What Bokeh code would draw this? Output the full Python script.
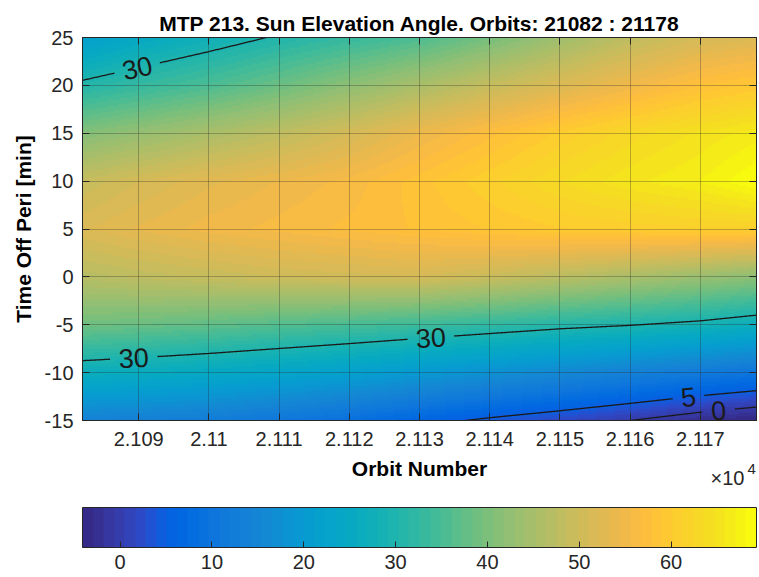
import numpy as np
import contourpy
from bokeh.plotting import figure
from bokeh.layouts import column
from bokeh.models import LinearColorMapper, ColorBar, FixedTicker, LinearAxis, Range1d
from bokeh.core.properties import value
from bokeh.embed import file_html
from bokeh.resources import INLINE

# ---------------- data ----------------
orbits = [21082, 21090, 21100, 21110, 21120, 21130, 21140, 21150, 21160, 21170, 21178]
time_off_peri = [-15, -10, -5, 0, 5, 10, 15, 20, 25]
elev_tm15 = [14, 13.5, 12.5, 11, 9, 6.5, 4.2, 2.2, 0, -2.5, -4.1]
elev_tm10 = [27, 26.2, 25, 23.6, 22, 20, 18, 16, 14, 12, 10.5]
elev_tm5 = [39, 38.4, 37.5, 36.3, 35.2, 34, 32.7, 31.3, 30.2, 28.8, 27]
elev_t0 = [47, 48, 49, 50, 50.5, 51, 49.5, 47.5, 45.5, 43.5, 42]
elev_t5 = [52, 53.5, 55, 56, 57, 58, 59, 60, 60.5, 61, 61]
elev_t10 = [49, 51, 53, 54.5, 56, 58.5, 61, 63.5, 65.5, 67, 69.3]
elev_t15 = [41, 43, 45.5, 48, 51, 54.5, 57.5, 60.5, 63, 65, 66.5]
elev_t20 = [31, 33, 35.5, 38.5, 42, 45.5, 49, 52, 55, 58, 59.5]
elev_t25 = [21.5, 24.9, 27.7, 30.5, 33, 35.5, 39.5, 44, 48, 51, 52]

contour_levels = [0, 5, 30]
x_ticks = [21090, 21100, 21110, 21120, 21130, 21140, 21150, 21160, 21170]
x_tick_labels = ["2.109", "2.11", "2.111", "2.112", "2.113", "2.114", "2.115", "2.116", "2.117"]
y_ticks = [-15, -10, -5, 0, 5, 10, 15, 20, 25]
y_tick_labels = ["-15", "-10", "-5", "0", "5", "10", "15", "20", "25"]
cb_ticks = [0, 10, 20, 30, 40, 50, 60]

# contour label placements (level, orbit, approximate time)
clabels = [(30, 21089.8, 21.6), (30, 21089.3, -8.9), (30, 21131.6, -6.6), (5, 21168.3, -12.6), (0, 21172.6, -14.2)]

parula = ["#352A87", "#363093", "#3637A0", "#353DAD", "#3243BA", "#2C4AC7", "#2053D4", "#0F5CDD",
          "#0363E1", "#0268E1", "#046DE0", "#0871DE", "#0D75DC", "#1079DA", "#127DD8", "#1481D6",
          "#1485D4", "#1389D3", "#108ED2", "#0C93D2", "#0998D1", "#079CCF", "#06A0CD", "#06A4CA",
          "#06A7C6", "#07A9C2", "#0AACBE", "#0FAEB9", "#15B1B4", "#1DB3AF", "#25B5A9", "#2EB7A4",
          "#38B99E", "#42BB98", "#4DBC92", "#59BD8C", "#65BE86", "#71BF80", "#7CBF7B", "#87BF77",
          "#92BF73", "#9CBF6F", "#A5BE6B", "#AEBE67", "#B7BD64", "#C0BC60", "#C8BC5D", "#D1BB59",
          "#D9BA56", "#E1B952", "#E9B94E", "#F1B94A", "#F8BB44", "#FDBE3D", "#FFC337", "#FEC832",
          "#FCCE2E", "#FAD32A", "#F7D826", "#F5DE21", "#F5E41D", "#F5EB18", "#F6F313", "#F9FB0E"]

FONT = "Liberation Sans"
INK = "#262626"
FW, FH = 674, 383
LEFT = 82
TOP = 37
P1_BOTTOM = 35          # below-frame strip of the main figure (tick labels)
STRIP_H = 52            # strip holding the x-axis title and the x10^4 multiplier

z = np.array([elev_tm15, elev_tm10, elev_tm5, elev_t0, elev_t5, elev_t10, elev_t15, elev_t20, elev_t25], dtype=float)
xo = np.array(orbits, dtype=float)
yt = np.array(time_off_peri, dtype=float)
x0, x1 = xo[0], xo[-1]
y0, y1 = yt[0], yt[-1]

mapper = LinearColorMapper(palette=parula, low=float(z.min()), high=float(z.max()))

p = figure(frame_width=FW, frame_height=FH, x_range=Range1d(x0, x1), y_range=Range1d(y0, y1),
           output_backend="svg", toolbar_location=None,
           min_border_left=LEFT, min_border_right=2, min_border_top=TOP, min_border_bottom=P1_BOTTOM,
           title="MTP 213. Sun Elevation Angle. Orbits: 21082 : 21178")
p.background_fill_color = "white"
p.border_fill_color = "white"
p.outline_line_color = INK
p.outline_line_width = 1

p.title.text_font = FONT
p.title.text_font_size = "21px"
p.title.text_font_style = "bold"
p.title.text_color = "#000000"
p.title.align = "center"
p.title.standoff = 5

# interpolated shading of the read grid (like MATLAB "shading interp"), display only
nx_disp, ny_disp = 338, 192
xs_disp = np.linspace(x0, x1, nx_disp)
ys_disp = np.linspace(y0, y1, ny_disp)
rows_x = np.array([np.interp(xs_disp, xo, row) for row in z])
shade = np.array([np.interp(ys_disp, yt, rows_x[:, j]) for j in range(nx_disp)]).T.astype(np.float32)
p.image(image=[shade], x=x0, y=y0, dw=x1 - x0, dh=y1 - y0, color_mapper=mapper, level="image")

# ---------------- contours with label gaps ----------------
gen = contourpy.contour_generator(xo, yt, z)

def to_px(pts):
    return np.column_stack(((pts[:, 0] - x0) / (x1 - x0) * FW, (pts[:, 1] - y0) / (y1 - y0) * FH))

def point_on_level(level, xq, yguess):
    best = None
    for seg in gen.lines(level):
        sx, sy = seg[:, 0], seg[:, 1]
        if sx.min() <= xq <= sx.max():
            o = np.argsort(sx)
            yq = float(np.interp(xq, sx[o], sy[o]))
            if best is None or abs(yq - yguess) < abs(best - yguess):
                best = yq
    return best

LFS = 27
lab_x, lab_y, lab_t, lab_a, lab_info = [], [], [], [], []
for lev, xq, yg in clabels:
    yq = point_on_level(lev, xq, yg)
    ya = point_on_level(lev, xq - 2, yg)
    yb = point_on_level(lev, xq + 2, yg)
    pa = to_px(np.array([[xq - 2, ya], [xq + 2, yb]]))
    ang = float(np.arctan2(pa[1, 1] - pa[0, 1], pa[1, 0] - pa[0, 0]))
    txt = str(lev)
    lab_x.append(xq); lab_y.append(yq); lab_t.append(txt); lab_a.append(ang)
    c = to_px(np.array([[xq, yq]]))[0]
    lab_info.append((lev, c, ang, 0.278 * LFS * len(txt) + 8))

line_xs, line_ys = [], []
for lev in contour_levels:
    for seg in gen.lines(lev):
        dense = [seg[0]]
        pxs = to_px(seg)
        for i in range(len(seg) - 1):
            n = max(1, int(np.ceil(np.hypot(*(pxs[i + 1] - pxs[i])))))
            for k in range(1, n + 1):
                dense.append(seg[i] + (seg[i + 1] - seg[i]) * k / n)
        dense = np.array(dense)
        dp = to_px(dense)
        keep = np.ones(len(dense), dtype=bool)
        for l2, c, ang, hw in lab_info:
            if l2 != lev:
                continue
            dx, dy = dp[:, 0] - c[0], dp[:, 1] - c[1]
            u = dx * np.cos(ang) + dy * np.sin(ang)
            v = -dx * np.sin(ang) + dy * np.cos(ang)
            keep &= ~((np.abs(u) < hw) & (np.abs(v) < 14))
        xs_ = dense[:, 0].copy(); ys_ = dense[:, 1].copy()
        xs_[~keep] = np.nan; ys_[~keep] = np.nan
        line_xs.append(xs_); line_ys.append(ys_)

p.multi_line(xs=line_xs, ys=line_ys, line_color="#1a1a1a", line_width=1.3)
p.text(x=lab_x, y=lab_y, text=lab_t, angle=lab_a, text_align="center", text_baseline="middle",
       text_font=value(FONT), text_font_size=f"{LFS}px", text_color="#1a1a1a")

# ---------------- axes & grid ----------------
p.xaxis.ticker = FixedTicker(ticks=x_ticks)
p.xaxis.major_label_overrides = dict(zip(x_ticks, x_tick_labels))
p.yaxis.ticker = FixedTicker(ticks=y_ticks)
p.yaxis.major_label_overrides = dict(zip(y_ticks, y_tick_labels))
for ax in (p.xaxis[0], p.yaxis[0]):
    ax.major_tick_in = 7
    ax.major_tick_out = 0
    ax.minor_tick_line_color = None
    ax.axis_line_color = INK
    ax.major_tick_line_color = INK
    ax.major_label_text_font = FONT
    ax.major_label_text_font_size = "20px"
    ax.major_label_text_color = INK
    ax.axis_label_text_font = FONT
    ax.axis_label_text_font_size = "21px"
    ax.axis_label_text_font_style = "bold"
    ax.axis_label_text_color = "#000000"
p.yaxis.axis_label = "Time Off Peri [min]"
p.xaxis.major_label_standoff = 11
p.yaxis.major_label_standoff = 9
p.yaxis.axis_label_standoff = 7

top_axis = LinearAxis(ticker=FixedTicker(ticks=x_ticks), major_label_text_font_size="1px",
                      major_label_text_color=None, major_label_standoff=0,
                      major_tick_in=7, major_tick_out=0, minor_tick_line_color=None,
                      axis_line_color=INK, major_tick_line_color=INK)
right_axis = LinearAxis(ticker=FixedTicker(ticks=y_ticks), major_label_text_font_size="1px",
                        major_label_text_color=None, major_label_standoff=0,
                        major_tick_in=7, major_tick_out=0, minor_tick_line_color=None,
                        axis_line_color=INK, major_tick_line_color=INK)
p.add_layout(top_axis, "above")
p.add_layout(right_axis, "right")

p.xgrid.ticker = FixedTicker(ticks=x_ticks)
p.ygrid.ticker = FixedTicker(ticks=y_ticks)
p.grid.grid_line_color = INK
p.grid.grid_line_alpha = 0.3
p.grid.grid_line_width = 1
p.grid.level = "underlay"

# ---------------- strip: x-axis title, x10^4 multiplier, colorbar ----------------
p2 = figure(frame_width=FW, frame_height=STRIP_H, x_range=Range1d(x0, x1), y_range=Range1d(0, STRIP_H),
            output_backend="svg", toolbar_location=None, x_axis_location=None, y_axis_location=None,
            min_border_left=LEFT, min_border_right=2, min_border_top=0, min_border_bottom=0)
p2.outline_line_color = None
p2.grid.visible = False
p2.background_fill_color = "white"
p2.border_fill_color = "white"

p2.text(x=[(x0 + x1) / 2], y=[STRIP_H - 13], text=["Orbit Number"], text_align="center", text_baseline="middle",
        text_font=value(FONT), text_font_size="21px", text_font_style="bold", text_color="#000000")
p2.text(x=[x1], y=[STRIP_H - 22], text=["×10"], x_offset=-46, text_align="left", text_baseline="middle",
        text_font=value(FONT), text_font_size="20px", text_color=INK)
p2.text(x=[x1], y=[STRIP_H - 13], text=["4"], x_offset=-9, text_align="left", text_baseline="middle",
        text_font=value(FONT), text_font_size="15px", text_color=INK)

cb = ColorBar(color_mapper=mapper, orientation="horizontal", height=40, padding=0,
              ticker=FixedTicker(ticks=cb_ticks), major_label_text_font=FONT, major_label_text_font_size="20px",
              major_label_text_color=INK, major_tick_in=6, major_tick_out=0, major_tick_line_color=INK,
              bar_line_color=INK, label_standoff=7, border_line_color=None, background_fill_alpha=0)
p2.add_layout(cb, "below")

layout = column(p, p2)
open("out.html", "w").write(file_html(layout, INLINE))
